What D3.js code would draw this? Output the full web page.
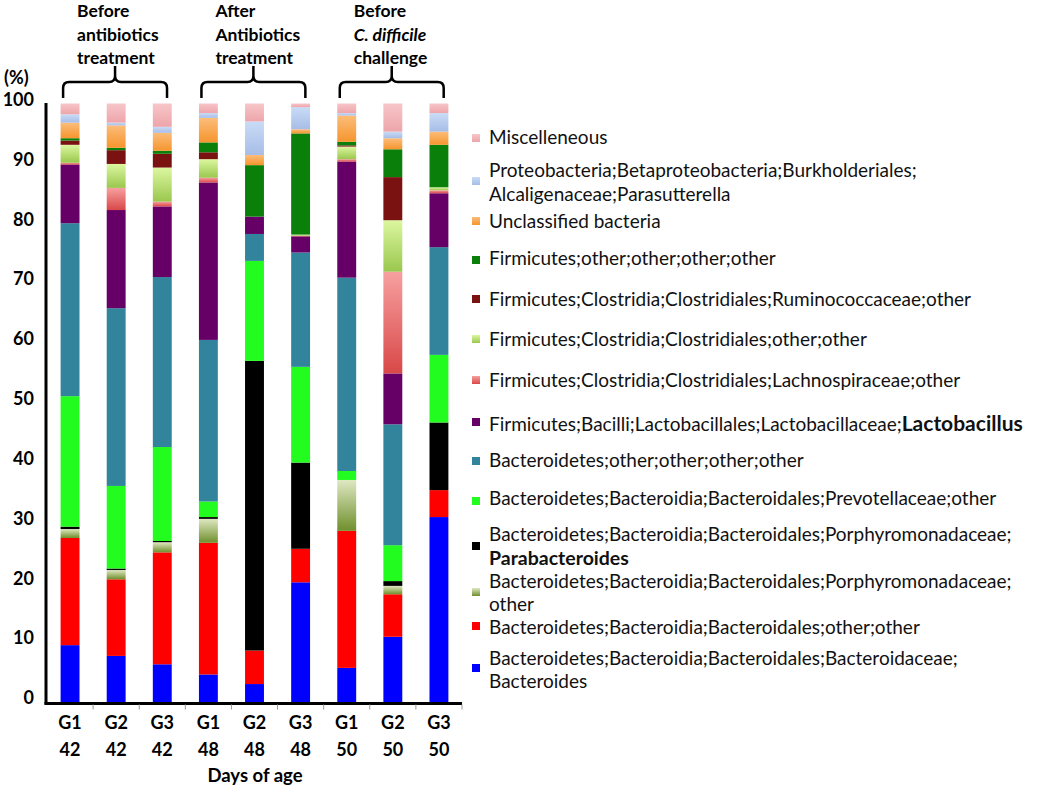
<!DOCTYPE html>
<html>
<head>
<meta charset="utf-8">
<script src="https://cdn.jsdelivr.net/npm/d3@7"></script>
<style>
  html, body { margin: 0; padding: 0; background: #fff; }
  svg { display: block; font-family: Lato, "Open Sans", sans-serif; }
</style>
</head>
<body>
<svg id="chart" width="1050" height="791"></svg>
<script>
// ---------- DATA ----------
const categories = ["G1-42","G2-42","G3-42","G1-48","G2-48","G3-48","G1-50","G2-50","G3-50"];
const groupLabels = ["G1","G2","G3","G1","G2","G3","G1","G2","G3"];
const dayLabels = ["42","42","42","48","48","48","50","50","50"];
const yTicks = [0,10,20,30,40,50,60,70,80,90,100];

// stacked from bottom to top
const bacteroides      = [9.5, 7.7, 6.3, 4.6, 3.0, 20.0, 5.7, 10.9, 30.9];
const bacteroidalesOth = [17.9, 12.8, 18.7, 22.0, 5.6, 5.6, 22.9, 7.1, 4.5];
const porphyroOther    = [1.5, 1.55, 1.7, 4.0, 0, 0, 8.5, 1.4, 0];
const parabacteroides  = [0.4, 0.25, 0.2, 0.3, 48.4, 14.4, 0, 0.8, 11.3];
const prevotellaceae   = [21.8, 13.8, 15.7, 2.6, 16.7, 16.0, 1.5, 6.0, 11.3];
const bacteroidetesOth = [28.9, 29.7, 28.4, 27.0, 4.5, 19.1, 32.3, 20.2, 18.0];
const lactobacillus    = [9.8, 16.4, 11.8, 26.3, 2.9, 2.7, 19.4, 8.5, 9.0];
const lachnospiraceae  = [0.3, 3.7, 0.8, 0.8, 0, 0.1, 0.4, 17.0, 0.5];
const clostridialesOth = [3.0, 4.0, 5.7, 3.1, 0, 0.2, 2.1, 8.6, 0.5];
const ruminococcaceae  = [0.7, 2.3, 2.3, 1.15, 0, 0, 0.2, 7.2, 0];
const firmicutesOther  = [0.4, 0.4, 0.5, 1.65, 8.6, 16.9, 0.6, 4.65, 7.1];
const unclassified     = [2.6, 3.75, 3.0, 4.1, 1.7, 0.7, 4.4, 1.85, 2.2];
const parasutterella   = [1.4, 0.45, 1.0, 0.8, 5.6, 3.7, 0.4, 1.1, 3.1];
const miscellaneous    = [1.8, 3.2, 3.9, 1.6, 3.0, 0.6, 1.6, 4.7, 1.6];

const seriesKeys = ["bacteroides","bacteroidalesOth","porphyroOther","parabacteroides","prevotellaceae",
  "bacteroidetesOth","lactobacillus","lachnospiraceae","clostridialesOth","ruminococcaceae",
  "firmicutesOther","unclassified","parasutterella","miscellaneous"];
const seriesValues = [bacteroides, bacteroidalesOth, porphyroOther, parabacteroides, prevotellaceae,
  bacteroidetesOth, lactobacillus, lachnospiraceae, clostridialesOth, ruminococcaceae,
  firmicutesOther, unclassified, parasutterella, miscellaneous];

// legend labels (lines; **text** = bold)
const legendLabels = [
  ["Bacteroidetes;Bacteroidia;Bacteroidales;Bacteroidaceae;", "Bacteroides"],
  ["Bacteroidetes;Bacteroidia;Bacteroidales;other;other"],
  ["Bacteroidetes;Bacteroidia;Bacteroidales;Porphyromonadaceae;", "other"],
  ["Bacteroidetes;Bacteroidia;Bacteroidales;Porphyromonadaceae;", "**Parabacteroides**"],
  ["Bacteroidetes;Bacteroidia;Bacteroidales;Prevotellaceae;other"],
  ["Bacteroidetes;other;other;other;other"],
  ["Firmicutes;Bacilli;Lactobacillales;Lactobacillaceae;**Lactobacillus**"],
  ["Firmicutes;Clostridia;Clostridiales;Lachnospiraceae;other"],
  ["Firmicutes;Clostridia;Clostridiales;other;other"],
  ["Firmicutes;Clostridia;Clostridiales;Ruminococcaceae;other"],
  ["Firmicutes;other;other;other;other"],
  ["Unclassified bacteria"],
  ["Proteobacteria;Betaproteobacteria;Burkholderiales;", "Alcaligenaceae;Parasutterella"],
  ["Miscelleneous"]
];

const headerLabels = [
  ["Before", "antibiotics", "treatment"],
  ["After", "Antibiotics", "treatment"],
  ["Before", "*C. difficile*", "challenge"]
];

// ---------- STYLE ----------
const colors = {
  bacteroides: "#0000ff", bacteroidalesOth: "#ff0000", porphyroOther: "#a3b868",
  parabacteroides: "#000000", prevotellaceae: "#22fc1e", bacteroidetesOth: "#31849b",
  lactobacillus: "#660066", lachnospiraceae: "#e86464", clostridialesOth: "#b7de73",
  ruminococcaceae: "#7b1212", firmicutesOther: "#0a7f0a", unclassified: "#f9a04c",
  parasutterella: "#b6cbee", miscellaneous: "#f3b6ba"
};
const gradients = {
  porphyroOther: ["#dfe8c2", "#6f8f2c"],
  lachnospiraceae: ["#f7a0a0", "#d94848"],
  clostridialesOth: ["#dcf7a0", "#9ac74e"],
  unclassified: ["#fbbd7a", "#f6952e"],
  parasutterella: ["#c9dbf6", "#a7bde6"],
  miscellaneous: ["#f7c6c9", "#eda5aa"]
};

// ---------- CHART ----------
const svg = d3.select("#chart");
const defs = svg.append("defs");
Object.entries(gradients).forEach(([k, [c1, c2]]) => {
  const g = defs.append("linearGradient").attr("id", "g-" + k)
    .attr("x1", 0).attr("y1", 0).attr("x2", 0).attr("y2", 1);
  g.append("stop").attr("offset", "0%").attr("stop-color", c1);
  g.append("stop").attr("offset", "100%").attr("stop-color", c2);
});
const fillFor = k => gradients[k] ? `url(#g-${k})` : colors[k];

const x = d3.scaleBand().domain(categories).range([47, 462])
  .paddingInner(0.59).paddingOuter(0.295);
const y = d3.scaleLinear().domain([0, 100]).range([702, 103.5]);

const table = categories.map((c, i) => {
  const row = { cat: c };
  seriesKeys.forEach((k, j) => row[k] = seriesValues[j][i]);
  return row;
});
const stacked = d3.stack().keys(seriesKeys)(table);

svg.append("g").selectAll("g").data(stacked).join("g")
  .attr("fill", d => fillFor(d.key))
  .selectAll("rect").data(d => d).join("rect")
  .attr("x", d => x(d.data.cat))
  .attr("width", x.bandwidth())
  .attr("y", d => y(d[1]))
  .attr("height", d => Math.max(0, y(d[0]) - y(d[1])));

// y axis
const yAxis = svg.append("g").attr("transform", "translate(46,0)")
  .call(d3.axisLeft(y).tickValues(yTicks).tickSize(0).tickPadding(12));
yAxis.select(".domain").attr("stroke", "#000").attr("stroke-width", 3)
  .attr("d", `M0,${y(100) - 0.5}V${y(0) + 2.5}`);
yAxis.selectAll("text").attr("font-family", "Lato, sans-serif").attr("font-size", 18)
  .attr("font-weight", "bold").attr("fill", "#000").attr("dy", "0.1em");

// x axis
const xAxis = svg.append("g").attr("transform", `translate(0,${y(0) + 1.5})`);
xAxis.append("line").attr("x1", 44.5).attr("x2", 462).attr("y1", 0).attr("y2", 0)
  .attr("stroke", "#000").attr("stroke-width", 3);
const boundaries = categories.map(c => x(c) - x.step() * x.paddingInner() / 2).slice(1)
  .concat([x(categories[categories.length - 1]) + x.bandwidth() + x.step() * x.paddingInner() / 2]);
xAxis.selectAll(".tk").data(boundaries).join("line")
  .attr("x1", d => d).attr("x2", d => d).attr("y1", 1).attr("y2", 6)
  .attr("stroke", "#999").attr("stroke-width", 1);
svg.append("g").selectAll("text").data(categories).join("text")
  .attr("x", d => x(d) + x.bandwidth() / 2).attr("y", 729)
  .attr("text-anchor", "middle").attr("font-size", 18).attr("font-weight", "bold")
  .text((d, i) => groupLabels[i]);
svg.append("g").selectAll("text").data(categories).join("text")
  .attr("x", d => x(d) + x.bandwidth() / 2).attr("y", 756)
  .attr("text-anchor", "middle").attr("font-size", 18).attr("font-weight", "bold")
  .text((d, i) => dayLabels[i]);
svg.append("text").attr("x", 255).attr("y", 782).attr("text-anchor", "middle")
  .attr("font-size", 18.5).attr("font-weight", "bold").text("Days of age");

// (%) label
svg.append("text").attr("x", 4).attr("y", 84).attr("font-size", 18)
  .attr("font-weight", "bold").text("(%)");

// braces + headers
headerLabels.forEach((lines, gi) => {
  const first = categories[gi * 3], last = categories[gi * 3 + 2];
  const x0 = x(first) + 2.5, x1 = x(last) + x.bandwidth() - 4.7, cx = (x0 + x1) / 2;
  const yb = 98, yh = 82, yt = 66;
  const p = `M${x0},${yb}V${yh + 6}Q${x0},${yh} ${x0 + 6},${yh}H${cx - 6}Q${cx},${yh} ${cx},${yh - 6}V${yt}`
    + `M${x1},${yb}V${yh + 6}Q${x1},${yh} ${x1 - 6},${yh}H${cx + 6}Q${cx},${yh} ${cx},${yh - 6}`;
  svg.append("path").attr("d", p).attr("fill", "none").attr("stroke", "#000").attr("stroke-width", 2.5);
  const t = svg.append("text").attr("x", x0 + 14).attr("y", 17)
    .attr("font-size", 17.5).attr("font-weight", "bold");
  lines.forEach((ln, li) => {
    const ts = t.append("tspan").attr("x", x0 + 14).attr("y", 17 + li * 23.5);
    if (ln.startsWith("*")) ts.attr("font-style", "italic").text(ln.replace(/\*/g, ""));
    else ts.text(ln);
  });
});

// legend
const legendRows = [
  { sy: 664, ty: [665, 688] },
  { sy: 622, ty: [634] },
  { sy: 588, ty: [588, 611] },
  { sy: 542, ty: [541, 565] },
  { sy: 497, ty: [505] },
  { sy: 457, ty: [467] },
  { sy: 418, ty: [431] },
  { sy: 376, ty: [387] },
  { sy: 335, ty: [346] },
  { sy: 295, ty: [306] },
  { sy: 256, ty: [265] },
  { sy: 217, ty: [228] },
  { sy: 177, ty: [177, 201] },
  { sy: 134, ty: [144] }
];
const legend = svg.append("g");
seriesKeys.forEach((k, i) => {
  const row = legendRows[i];
  legend.append("rect").attr("x", 472).attr("y", row.sy).attr("width", 8).attr("height", 8)
    .attr("fill", fillFor(k));
  const t = legend.append("text").attr("x", 489).attr("y", row.ty[0]).attr("font-size", 19)
    .attr("fill", "#111");
  legendLabels[i].forEach((ln, li) => {
    const parts = ln.split("**");
    let first = true;
    parts.forEach((pt, pi) => {
      if (!pt) return;
      const bold = pi % 2 === 1;
      const ts = t.append("tspan").attr("font-weight", bold ? "bold" : "normal")
        .attr("font-size", bold ? (li > 0 ? 19.5 : 21) : 19).text(pt);
      if (first) { ts.attr("x", 489).attr("y", row.ty[li]); first = false; }
    });
  });
});
</script>
</body>
</html>
